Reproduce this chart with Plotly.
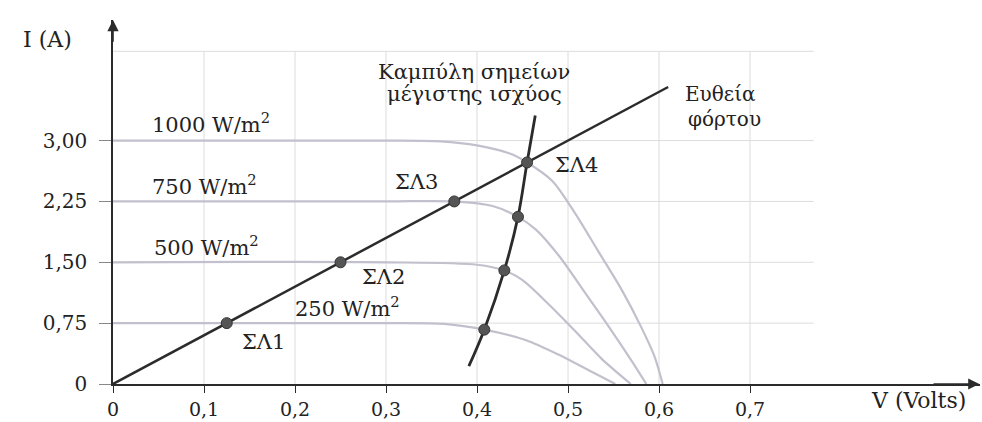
import plotly.graph_objects as go

# ---------------- data ----------------
v_1000 = [0.0, 0.30, 0.36, 0.40, 0.436, 0.455, 0.483, 0.508, 0.533, 0.559, 0.580, 0.595, 0.604]
i_1000 = [3.0, 3.0, 2.99, 2.94, 2.84, 2.73, 2.50, 2.10, 1.64, 1.16, 0.71, 0.34, 0.0]

v_750 = [0.0, 0.30, 0.375, 0.418, 0.445, 0.465, 0.490, 0.519, 0.544, 0.569, 0.586]
i_750 = [2.25, 2.25, 2.25, 2.19, 2.06, 1.90, 1.58, 1.12, 0.72, 0.30, 0.0]

v_500 = [0.0, 0.30, 0.40, 0.430, 0.450, 0.479, 0.508, 0.537, 0.569]
i_500 = [1.5, 1.5, 1.47, 1.40, 1.28, 0.98, 0.65, 0.31, 0.0]

v_250 = [0.0, 0.30, 0.364, 0.408, 0.454, 0.490, 0.526, 0.552]
i_250 = [0.75, 0.75, 0.74, 0.67, 0.54, 0.36, 0.15, 0.0]

# maximum power point curve
v_mpp = [0.391, 0.408, 0.430, 0.445, 0.455, 0.464]
i_mpp = [0.22, 0.67, 1.40, 2.06, 2.73, 3.31]
mpp_pts_v = [0.408, 0.430, 0.445, 0.455]
mpp_pts_i = [0.67, 1.40, 2.06, 2.73]

# load line
v_load = [0.0, 0.61]
i_load = [0.0, 3.66]
load_pts_v = [0.125, 0.25, 0.375]
load_pts_i = [0.75, 1.50, 2.25]

x_ticks = [0, 0.1, 0.2, 0.3, 0.4, 0.5, 0.6, 0.7]
x_ticktext = ["0", "0,1", "0,2", "0,3", "0,4", "0,5", "0,6", "0,7"]
y_ticks = [0, 0.75, 1.50, 2.25, 3.00]
y_ticktext = ["0", "0,75", "1,50", "2,25", "3,00"]

curve_labels = ["1000 W/m<sup>2</sup>", "750 W/m<sup>2</sup>", "500 W/m<sup>2</sup>", "250 W/m<sup>2</sup>"]
point_labels = ["ΣΛ1", "ΣΛ2", "ΣΛ3", "ΣΛ4"]

# ---------------- figure ----------------
FONT = "DejaVu Serif"
CURVE = "#c2c0cc"
DARK = "#2b2b2b"
GRID = "#dcdcdc"

fig = go.Figure()

for vv, ii in [(v_1000, i_1000), (v_750, i_750), (v_500, i_500), (v_250, i_250)]:
    fig.add_trace(go.Scatter(x=vv, y=ii, mode="lines", line=dict(color=CURVE, width=2.2, shape="spline", smoothing=0.8),
                             hoverinfo="skip", showlegend=False))

fig.add_trace(go.Scatter(x=v_load, y=i_load, mode="lines", line=dict(color=DARK, width=2.5),
                         showlegend=False, hoverinfo="skip"))
fig.add_trace(go.Scatter(x=v_mpp, y=i_mpp, mode="lines", line=dict(color=DARK, width=2.8, shape="spline"),
                         showlegend=False, hoverinfo="skip"))
fig.add_trace(go.Scatter(x=load_pts_v + mpp_pts_v, y=load_pts_i + mpp_pts_i, mode="markers",
                         marker=dict(size=11, color="#555555", line=dict(color="#333333", width=1)),
                         showlegend=False, hoverinfo="skip", cliponaxis=False))

# gridlines (limited extent as in the original)
for xv in x_ticks[1:]:
    fig.add_shape(type="line", x0=xv, x1=xv, y0=0, y1=4.1, line=dict(color=GRID, width=1), layer="below")
for yv in y_ticks[1:] + [4.1]:
    fig.add_shape(type="line", x0=0, x1=0.77, y0=yv, y1=yv, line=dict(color=GRID, width=1), layer="below")

# axis arrows
fig.add_annotation(x=0.952, y=0, ax=0.90, ay=0, xref="x", yref="y", axref="x", ayref="y", text="",
                   showarrow=True, arrowhead=2, arrowsize=1.4, arrowwidth=1.6, arrowcolor=DARK)
fig.add_annotation(x=0, y=4.485, ax=0, ay=4.2, xref="x", yref="y", axref="x", ayref="y", text="",
                   showarrow=True, arrowhead=2, arrowsize=1.4, arrowwidth=1.6, arrowcolor=DARK)

def txt(x, y, s, size=21, xanchor="left", ref="x"):
    fig.add_annotation(x=x, y=y, xref=ref if ref == "x" else "paper", yref="y" if ref == "x" else "paper",
                       text=s, showarrow=False, xanchor=xanchor, yanchor="middle",
                       font=dict(family=FONT, size=size, color="#222222"))

# axis titles (paper coordinates, outside the plot area)
txt(-0.0761, 0.946, "I (A)", size=22, xanchor="center", ref="paper")
txt(0.9285, -0.046, "V (Volts)", size=22, xanchor="center", ref="paper")

lab_pos = [(0.0407, 3.22), (0.0407, 2.455), (0.043, 1.705), (0.198, 0.955)]
for (x, y), s in zip(lab_pos, curve_labels):
    txt(x, y, s)

pt_pos = [(0.1396, 0.52), (0.2714, 1.32), (0.308, 2.49), (0.4835, 2.70)]
for (x, y), s in zip(pt_pos, point_labels):
    txt(x, y, s)

txt(0.397, 3.845, "Καμπύλη σημείων", xanchor="center")
txt(0.397, 3.58, "μέγιστης ισχύος", xanchor="center")
txt(0.626, 3.57, "Ευθεία", size=20)
txt(0.630, 3.27, "φόρτου", size=20)

fig.update_layout(
    width=982, height=422,
    margin=dict(l=113, r=2, t=20, b=31),
    paper_bgcolor="white", plot_bgcolor="white",
    showlegend=False,
    xaxis=dict(range=[0, 0.9527], tickvals=x_ticks, ticktext=x_ticktext, showgrid=False, zeroline=False,
               showline=True, linecolor=DARK, linewidth=1.6, ticks="outside", ticklen=7, tickcolor=DARK,
               tickfont=dict(family=FONT, size=19, color="#222222"), fixedrange=True),
    yaxis=dict(range=[0, 4.486], tickvals=y_ticks, ticktext=y_ticktext, showgrid=False, zeroline=False,
               showline=True, linecolor=DARK, linewidth=1.6, ticks="outside", ticklen=12, tickcolor="#888888",
               ticklabelstandoff=8,
               tickfont=dict(family=FONT, size=20, color="#222222"), fixedrange=True),
)

fig.write_html("out.html", config={"displayModeBar": False},
               post_script="document.body.style.margin='0';document.body.style.padding='0';")
